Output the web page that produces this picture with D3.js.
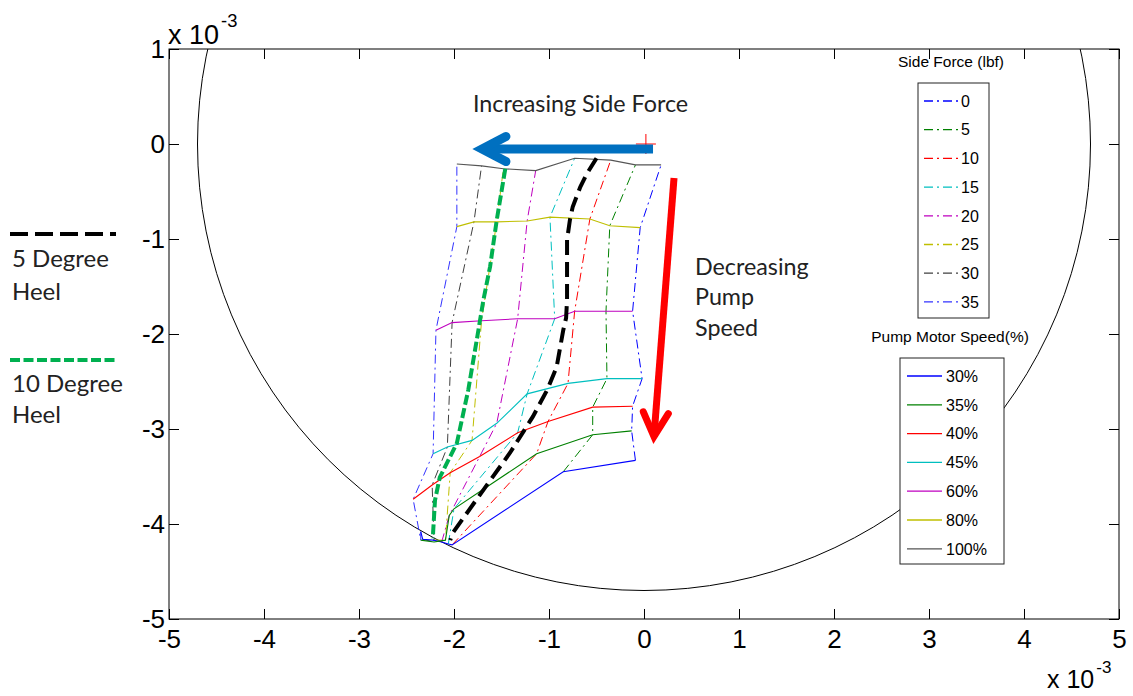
<!DOCTYPE html>
<html>
<head>
<meta charset="utf-8">
<script src="https://cdn.jsdelivr.net/npm/d3@7"></script>
<style>
  body { margin: 0; background: #fff; }
  svg { display: block; }
</style>
</head>
<body>
<svg id="chart" width="1133" height="696"></svg>
<script>
// ---- data (values in units of 1e-3) ----
const xTickValues = [-5, -4, -3, -2, -1, 0, 1, 2, 3, 4, 5];
const yTickValues = [-5, -4, -3, -2, -1, 0, 1];

const sideForces = [0, 5, 10, 15, 20, 25, 30, 35];          // lbf
const pumpSpeeds = [30, 35, 40, 45, 60, 80, 100];           // %

// position of each operating point, per pump speed, ordered by side force 0..35
const x30  = [-0.09, -0.85, -2.02, -2.06, -2.13, -2.22, -2.33, -2.35];
const y30  = [-3.33, -3.45, -4.22, -4.21, -4.19, -4.17, -4.16, -4.08];
const x35  = [-0.13, -0.54, -1.13, -2.00, -2.05, -2.09, -2.21, -2.35];
const y35  = [-3.02, -3.06, -3.26, -3.84, -3.91, -4.17, -4.19, -4.17];
const x40  = [-0.12, -0.54, -1.01, -1.33, -1.73, -2.04, -2.23, -2.43];
const y40  = [-2.76, -2.77, -2.92, -3.04, -3.29, -3.46, -3.59, -3.74];
const x45  = [-0.02, -0.39, -0.80, -1.23, -1.55, -1.81, -2.07, -2.22];
const y45  = [-2.47, -2.47, -2.52, -2.63, -2.94, -3.12, -3.19, -3.26];
const x60  = [-0.12, -0.40, -0.73, -0.94, -1.33, -1.71, -2.02, -2.19];
const y60  = [-1.76, -1.76, -1.76, -1.84, -1.84, -1.86, -1.88, -1.96];
const x80  = [-0.04, -0.36, -0.57, -0.99, -1.23, -1.55, -1.79, -1.97];
const y80  = [-0.88, -0.86, -0.79, -0.77, -0.81, -0.82, -0.82, -0.87];
const x100 = [ 0.18, -0.09, -0.35, -0.73, -1.14, -1.48, -1.71, -1.97];
const y100 = [-0.22, -0.22, -0.17, -0.15, -0.28, -0.26, -0.23, -0.21];

// heel trajectories
const heel5X  = [-0.50, -0.60, -0.67, -0.75, -0.78, -0.81, -0.81, -0.81, -0.82, -0.85, -0.92, -1.02, -1.17, -1.41, -1.69, -2.01, -2.04];
const heel5Y  = [-0.15, -0.31, -0.45, -0.66, -0.80, -1.01, -1.29, -1.64, -1.83, -1.96, -2.35, -2.59, -2.87, -3.25, -3.64, -4.09, -4.17];
const heel10X = [-1.46, -1.55, -1.62, -1.69, -1.76, -1.85, -1.97, -2.15, -2.20, -2.22, -2.22];
const heel10Y = [-0.26, -0.80, -1.29, -1.64, -2.06, -2.59, -3.15, -3.51, -3.75, -4.09, -4.15];

const boundaryRadius = 4.7;
const centerMark = [0.02, 0.0];

// annotation arrows [x0, y0, x1, y1]
const sideForceArrow = [0.095, -0.053, -1.705, -0.053];
const pumpSpeedArrow = [0.316, -0.358, 0.105, -3.08];

// ---- styles ----
const forceColors = ["#0000ff", "#008000", "#ff0000", "#00bfbf", "#bf00bf", "#bfbf00", "#404040", "#3333ff"];
const speedColors = ["#0000ff", "#008000", "#ff0000", "#00bfbf", "#bf00bf", "#bfbf00", "#555555"];
const dashDot = "9,4,2,4";
const axisFont = "'Liberation Sans', Arial, sans-serif";
const noteFont = "Lato, 'Open Sans', sans-serif";

const grid = [[x30, y30], [x35, y35], [x40, y40], [x45, y45], [x60, y60], [x80, y80], [x100, y100]];

const svg = d3.select("#chart");
const L = 169, R = 1119, T = 49, B = 619;
const x = d3.scaleLinear().domain([-5, 5]).range([L, R]);
const y = d3.scaleLinear().domain([-5, 1]).range([B, T]);

svg.append("defs").append("clipPath").attr("id", "plotClip")
  .append("rect").attr("x", L).attr("y", T).attr("width", R - L).attr("height", B - T);

const plot = svg.append("g").attr("clip-path", "url(#plotClip)");

// boundary circle
plot.append("circle")
  .attr("cx", x(0)).attr("cy", y(0))
  .attr("r", x(boundaryRadius) - x(0))
  .attr("fill", "none").attr("stroke", "#000").attr("stroke-width", 1);

const line = d3.line().x(d => x(d[0])).y(d => y(d[1]));

// constant side-force curves (dash-dot), across pump speeds
sideForces.forEach((f, j) => {
  const pts = grid.map(([gx, gy]) => [gx[j], gy[j]]);
  plot.append("path").attr("d", line(pts))
    .attr("fill", "none").attr("stroke", forceColors[j])
    .attr("stroke-width", 1).attr("stroke-dasharray", dashDot);
});

// constant pump-speed curves (solid), across side forces
pumpSpeeds.forEach((s, i) => {
  const [gx, gy] = grid[i];
  const pts = gx.map((v, j) => [v, gy[j]]);
  plot.append("path").attr("d", line(pts))
    .attr("fill", "none").attr("stroke", speedColors[i]).attr("stroke-width", 1.1);
});

// center marker
plot.append("path")
  .attr("d", `M${x(centerMark[0]) - 10},${y(centerMark[1])}h20M${x(centerMark[0])},${y(centerMark[1]) - 10}v20`)
  .attr("stroke", "#ff0000").attr("stroke-width", 1);

// heel trajectories
plot.append("path").attr("d", line(heel10X.map((v, i) => [v, heel10Y[i]])))
  .attr("fill", "none").attr("stroke", "#00b050").attr("stroke-width", 4)
  .attr("stroke-dasharray", "10,3.5");
plot.append("path").attr("d", line(heel5X.map((v, i) => [v, heel5Y[i]])))
  .attr("fill", "none").attr("stroke", "#000").attr("stroke-width", 4)
  .attr("stroke-dasharray", "15,7");

// ---- axes ----
const fmt = d => String(d);
const gx = svg.append("g").attr("transform", `translate(0,${B})`)
  .call(d3.axisBottom(x).tickValues(xTickValues).tickFormat(fmt).tickSize(-10).tickPadding(11));
const gy = svg.append("g").attr("transform", `translate(${L},0)`)
  .call(d3.axisLeft(y).tickValues(yTickValues).tickFormat(fmt).tickSize(-10).tickPadding(4));
const gt = svg.append("g").attr("transform", `translate(0,${T})`)
  .call(d3.axisTop(x).tickValues(xTickValues).tickFormat("").tickSize(-10));
const gr = svg.append("g").attr("transform", `translate(${R},0)`)
  .call(d3.axisRight(y).tickValues(yTickValues).tickFormat("").tickSize(-10));
[gx, gy, gt, gr].forEach(g => {
  g.select(".domain").remove();
  g.selectAll("line").attr("stroke", "#000");
  g.selectAll("text").attr("font-family", axisFont).attr("font-size", 26).attr("fill", "#000");
});
svg.append("rect").attr("x", L).attr("y", T).attr("width", R - L).attr("height", B - T)
  .attr("fill", "none").attr("stroke", "#000").attr("stroke-width", 1);

// exponent labels
function exponent(xp, yp, size) {
  const t = svg.append("text").attr("x", xp).attr("y", yp)
    .attr("font-family", axisFont).attr("font-size", size).attr("fill", "#000");
  t.append("tspan").text("x 10");
  t.append("tspan").attr("dx", 2).attr("dy", -size * 0.62).attr("font-size", size * 0.68).text("-3");
}
exponent(168, 44, 27);
exponent(1047, 688, 25);

// ---- legends ----
function legend(title, titleX, titleY, box, labels, colors, dash, lineX0, lineX1, labelX, y0, step) {
  svg.append("text").attr("x", titleX).attr("y", titleY).attr("text-anchor", "middle")
    .attr("font-family", axisFont).attr("font-size", 15.5).attr("fill", "#000").text(title);
  svg.append("rect").attr("x", box[0]).attr("y", box[1]).attr("width", box[2]).attr("height", box[3])
    .attr("fill", "#fff").attr("stroke", "#222").attr("stroke-width", 1);
  labels.forEach((lab, i) => {
    const yy = y0 + i * step;
    svg.append("line").attr("x1", lineX0).attr("x2", lineX1).attr("y1", yy).attr("y2", yy)
      .attr("stroke", colors[i]).attr("stroke-width", 1.3)
      .attr("stroke-dasharray", dash);
    svg.append("text").attr("x", labelX).attr("y", yy).attr("dy", "0.36em")
      .attr("font-family", axisFont).attr("font-size", 16).attr("fill", "#000").text(lab);
  });
}
legend("Side Force (lbf)", 951, 67, [918, 83, 71, 235], sideForces.map(String), forceColors,
  dashDot, 924, 959, 961, 101, 28.7);
legend("Pump Motor Speed(%)", 950, 342, [900, 358, 104, 206], pumpSpeeds.map(d => d + "%"), speedColors,
  null, 907, 942, 946, 376, 28.8);

// ---- annotations ----
function arrow(a, color, width) {
  const p0 = [x(a[0]), y(a[1])], p1 = [x(a[2]), y(a[3])];
  const ang = Math.atan2(p1[1] - p0[1], p1[0] - p0[0]);
  const len = 27, spread = Math.PI / 6.5;
  const w1 = [p1[0] - len * Math.cos(ang - spread), p1[1] - len * Math.sin(ang - spread)];
  const w2 = [p1[0] - len * Math.cos(ang + spread), p1[1] - len * Math.sin(ang + spread)];
  svg.append("path").attr("d", `M${p0}L${p1}`).attr("stroke", color).attr("stroke-width", width)
    .attr("fill", "none");
  svg.append("path").attr("d", `M${w1}L${p1}L${w2}`).attr("stroke", color).attr("stroke-width", width)
    .attr("fill", "none").attr("stroke-linejoin", "miter").attr("stroke-linecap", "round");
}
arrow(sideForceArrow, "#0070c0", 9);
arrow(pumpSpeedArrow, "#ff0000", 7);

function note(lines, xp, yp, lh, size) {
  lines.forEach((s, i) => {
    svg.append("text").attr("x", xp).attr("y", yp + i * lh)
      .attr("font-family", noteFont).attr("font-size", size).attr("fill", "#222").text(s);
  });
}
note(["Increasing Side Force"], 473, 112, 0, 23.3);
note(["Decreasing", "Pump", "Speed"], 695, 275, 30.3, 23.3);

// side key for heel trajectories
svg.append("line").attr("x1", 10).attr("x2", 116).attr("y1", 234).attr("y2", 234)
  .attr("stroke", "#000").attr("stroke-width", 4).attr("stroke-dasharray", "18,7");
svg.append("line").attr("x1", 10).attr("x2", 116).attr("y1", 360).attr("y2", 360)
  .attr("stroke", "#00b050").attr("stroke-width", 4).attr("stroke-dasharray", "10,3.5");
note(["5 Degree", "Heel"], 12, 267, 33, 24);
note(["10 Degree", "Heel"], 12, 392, 31, 24);
</script>
</body>
</html>
